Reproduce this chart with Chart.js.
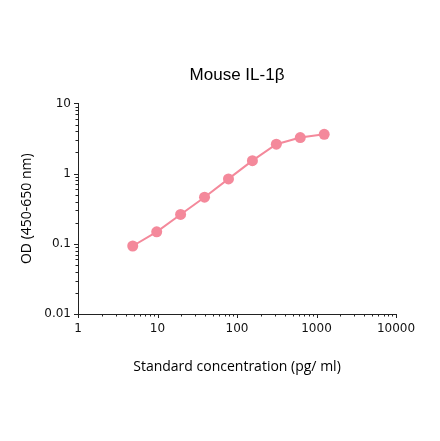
<!DOCTYPE html>
<html>
<head>
<meta charset="utf-8">
<script src="https://cdn.jsdelivr.net/npm/chart.js@4/dist/chart.umd.min.js"></script>
<style>
  html, body { margin: 0; padding: 0; background: #fff; }
  #wrap { width: 440px; height: 441px; }
</style>
</head>
<body>
<div id="wrap"><canvas id="myChart" width="440" height="441"></canvas></div>
<script>
// standard curve values
var concentrations = [4.88, 9.77, 19.53, 39.06, 78.13, 156.25, 312.5, 625, 1250];
var odValues = [0.093, 0.148, 0.262, 0.461, 0.84, 1.53, 2.62, 3.26, 3.63];
var xDecades = [1, 10, 100, 1000, 10000];
var yDecades = [0.01, 0.1, 1, 10];

var pink = '#f4899b';
var axisColor = '#222';

// builds 1,2,...9,10,20,... list between the decades
function logTicks(decades) {
    var out = [];
    for (var i = 0; i < decades.length; i++) {
        out.push({ value: decades[i], major: true });
        if (i < decades.length - 1) {
            for (var k = 2; k <= 9; k++) {
                out.push({ value: +(decades[i] * k).toPrecision(6), major: false });
            }
        }
    }
    return out;
}

function isDecade(v) {
    var l = Math.log10(v);
    return Math.abs(l - Math.round(l)) < 1e-9;
}

// tick marks: long for decades, short for the rest
const tickMarks = {
    id: 'tickMarks',
    afterDraw(chart) {
        var ctx = chart.ctx;
        ctx.save();
        ctx.strokeStyle = axisColor;
        ctx.lineWidth = 1;
        var xs = chart.scales.x, ys = chart.scales.y;
        xs.ticks.forEach(function (t) {
            var px = Math.round(xs.getPixelForValue(t.value)) + 0.5;
            var len = t.major ? 4 : 2.5;
            ctx.beginPath();
            ctx.moveTo(px, xs.top);
            ctx.lineTo(px, xs.top + len);
            ctx.stroke();
        });
        ys.ticks.forEach(function (t) {
            var py = Math.round(ys.getPixelForValue(t.value)) + 0.5;
            var len = t.major ? 4 : 2.5;
            ctx.beginPath();
            ctx.moveTo(ys.right, py);
            ctx.lineTo(ys.right - len, py);
            ctx.stroke();
        });
        ctx.restore();
    }
};

const data = {
    datasets: [{
        label: 'Mouse IL-1β',
        data: concentrations.map(function (c, i) { return { x: c, y: odValues[i] }; }),
        borderColor: pink,
        backgroundColor: pink,
        borderWidth: 2,
        pointRadius: 5.5,
        pointHoverRadius: 5.5,
        pointBorderWidth: 0,
        tension: 0
    }]
};

const config = {
    type: 'line',
    data,
    plugins: [tickMarks],
    options: {
        responsive: false,
        animation: false,
        layout: { padding: { left: 19, right: 44, top: 0, bottom: 66 } },
        plugins: {
            legend: { display: false },
            tooltip: { enabled: false },
            title: {
                display: true,
                text: 'Mouse IL-1β',
                fullSize: false,
                color: '#000',
                font: { family: '"Liberation Sans", Arial, sans-serif', size: 17, weight: 'normal' },
                padding: { top: 65, bottom: 18 }
            }
        },
        scales: {
            x: {
                type: 'logarithmic',
                min: 1,
                max: 10000,
                afterBuildTicks: function (s) { s.ticks = logTicks(xDecades); },
                afterFit: function (s) { s.height = 61; },
                grid: { display: true, drawOnChartArea: false, drawTicks: false },
                border: { display: true, color: axisColor, width: 1 },
                ticks: {
                    autoSkip: false,
                    maxRotation: 0,
                    padding: 8,
                    color: '#111',
                    font: { family: '"DejaVu Sans", sans-serif', size: 12 },
                    callback: function (v) { return isDecade(v) ? String(v) : ''; }
                },
                title: {
                    display: true,
                    text: 'Standard concentration (pg/ ml)',
                    color: '#000',
                    padding: 0,
                    font: { family: '"Open Sans", sans-serif', size: 14 }
                }
            },
            y: {
                type: 'logarithmic',
                min: 0.01,
                max: 10,
                afterBuildTicks: function (s) { s.ticks = logTicks(yDecades); },
                afterFit: function (s) { s.width = 59; },
                grid: { display: true, drawOnChartArea: false, drawTicks: false },
                border: { display: true, color: axisColor, width: 1 },
                ticks: {
                    autoSkip: false,
                    padding: 7,
                    color: '#111',
                    font: { family: '"DejaVu Sans", sans-serif', size: 12 },
                    callback: function (v) { return isDecade(v) ? String(v) : ''; }
                },
                title: {
                    display: true,
                    text: 'OD (450-650 nm)',
                    color: '#000',
                    padding: 0,
                    font: { family: '"Open Sans", sans-serif', size: 14 }
                }
            }
        }
    }
};

var myChart = new Chart(document.getElementById('myChart'), config);
</script>
</body>
</html>
